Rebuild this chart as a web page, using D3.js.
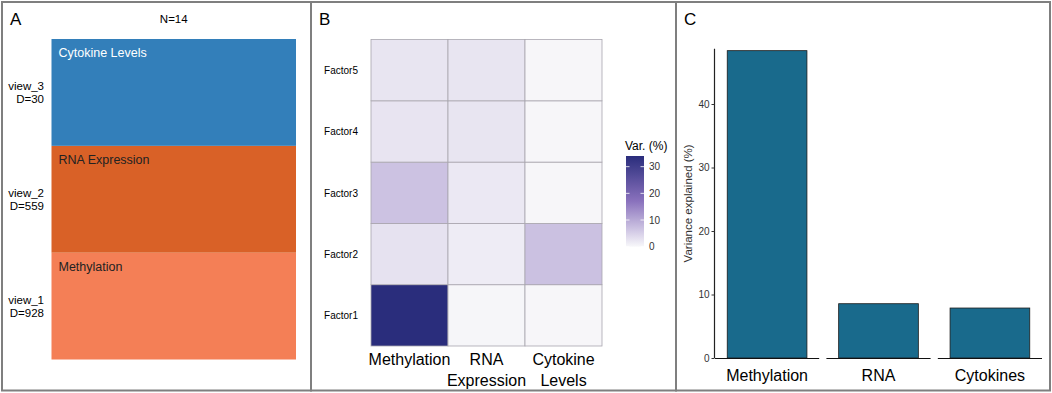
<!DOCTYPE html>
<html>
<head>
<meta charset="utf-8">
<script src="https://cdn.jsdelivr.net/npm/d3@7"></script>
<style>
  body { margin: 0; background: white; }
  text { font-family: "Liberation Sans", Arial, sans-serif; }
</style>
</head>
<body>
<div id="chart"></div>
<script>
// data
let views = ["view_1", "view_2", "view_3"];
let viewNames = ["Methylation", "RNA Expression", "Cytokine Levels"];
let viewDims = [928, 559, 30];
let viewColors = ["#f47f56", "#d96127", "#337fba"];
let nSamples = 14;

let factors = ["Factor1", "Factor2", "Factor3", "Factor4", "Factor5"];
let heatCols = ["Methylation", "RNA Expression", "Cytokine Levels"];
// variance explained per factor (rows) and view (cols)
let varMethylation = [34.0, 2.8, 6.8, 2.5, 2.4];
let varRNA = [0.3, 1.5, 2.0, 2.4, 2.4];
let varCytokine = [0.2, 7.0, 0.2, 0.2, 0.2];
let legendTicks = [0, 10, 20, 30];

let totalLabels = ["Methylation", "RNA", "Cytokines"];
let totalValues = [48.4, 8.55, 7.87];
let yTicks = [0, 10, 20, 30, 40];

let W = 1052, H = 393;
let svg = d3.select("#chart").append("svg")
  .attr("width", W).attr("height", H);

// panel frames
let panels = [[2, 311], [311, 676], [676, 1050]];
panels.forEach(function(p) {
  svg.append("rect")
    .attr("x", p[0]).attr("y", 2)
    .attr("width", p[1] - p[0]).attr("height", 388.5)
    .attr("fill", "none").attr("stroke", "#7f7f7f").attr("stroke-width", 2);
});
["A", "B", "C"].forEach(function(l, i) {
  svg.append("text").attr("x", panels[i][0] + 8).attr("y", 25)
    .attr("font-size", 17).text(l);
});

// ---------- Panel A: data overview ----------
let gA = svg.append("g");
let yA = d3.scaleBand().domain(views.slice().reverse()).range([39, 359.5]);
let xA0 = 51.5, xA1 = 296;

gA.append("text").attr("x", (xA0 + xA1) / 2).attr("y", 23)
  .attr("text-anchor", "middle").attr("font-size", 11.5).text("N=" + nSamples);

gA.selectAll(".blk").data(views).enter().append("rect")
  .attr("x", xA0).attr("width", xA1 - xA0)
  .attr("y", function(d) { return yA(d); })
  .attr("height", yA.bandwidth())
  .attr("fill", function(d, i) { return viewColors[i]; });

gA.selectAll(".nm").data(views).enter().append("text")
  .attr("x", xA0 + 7)
  .attr("y", function(d) { return yA(d) + 18; })
  .attr("font-size", 12.5)
  .attr("fill", function(d, i) { return i == 2 ? "white" : "#222"; })
  .text(function(d, i) { return viewNames[i]; });

views.forEach(function(v, i) {
  let cy = yA(v) + yA.bandwidth() / 2;
  let t = gA.append("text").attr("text-anchor", "end").attr("font-size", 11.5);
  t.append("tspan").attr("x", 44).attr("y", cy - 2).text(v);
  t.append("tspan").attr("x", 44).attr("y", cy + 11).text("D=" + viewDims[i]);
});

// ---------- Panel B: heatmap ----------
let gB = svg.append("g");
let xB = d3.scaleBand().domain(heatCols).range([371, 602]);
let yB = d3.scaleBand().domain(factors.slice().reverse()).range([39.5, 346]);
let color = d3.scaleLinear().domain([0, 17, 34])
  .range(["#f8f8fa", "#8a72bd", "#2a2d7c"]);

let cells = [];
factors.forEach(function(f, i) {
  cells.push({ f: f, v: heatCols[0], val: varMethylation[i] });
  cells.push({ f: f, v: heatCols[1], val: varRNA[i] });
  cells.push({ f: f, v: heatCols[2], val: varCytokine[i] });
});

gB.selectAll(".cell").data(cells).enter().append("rect")
  .attr("x", function(d) { return xB(d.v); })
  .attr("y", function(d) { return yB(d.f); })
  .attr("width", xB.bandwidth()).attr("height", yB.bandwidth())
  .attr("fill", function(d) { return color(d.val); })
  .attr("stroke", "#a9a6ae").attr("stroke-width", 0.8);

gB.selectAll(".fl").data(factors).enter().append("text")
  .attr("x", 358).attr("text-anchor", "end").attr("font-size", 10)
  .attr("y", function(d) { return yB(d) + yB.bandwidth() / 2 + 4; })
  .text(function(d) { return d; });

heatCols.forEach(function(c) {
  let words = c.split(" ");
  let t = gB.append("text").attr("text-anchor", "middle").attr("font-size", 16);
  words.forEach(function(w, j) {
    t.append("tspan").attr("x", xB(c) + xB.bandwidth() / 2).attr("y", 365 + j * 20.5).text(w);
  });
});

// legend
let legY = d3.scaleLinear().domain([0, 34]).range([246.7, 156]);
let defs = svg.append("defs");
let grad = defs.append("linearGradient").attr("id", "lg")
  .attr("x1", 0).attr("y1", 1).attr("x2", 0).attr("y2", 0);
d3.range(0, 1.01, 0.1).forEach(function(t) {
  grad.append("stop").attr("offset", t).attr("stop-color", color(t * 34));
});
gB.append("rect").attr("x", 626).attr("y", legY(34))
  .attr("width", 18).attr("height", legY(0) - legY(34))
  .attr("fill", "url(#lg)");
legendTicks.forEach(function(t) {
  gB.append("line").attr("x1", 626).attr("x2", 629.5)
    .attr("y1", legY(t)).attr("y2", legY(t)).attr("stroke", "white").attr("stroke-width", 0.8);
  gB.append("line").attr("x1", 640.5).attr("x2", 644)
    .attr("y1", legY(t)).attr("y2", legY(t)).attr("stroke", "white").attr("stroke-width", 0.8);
  gB.append("text").attr("x", 649).attr("y", legY(t) + 3.5)
    .attr("font-size", 10).attr("fill", "#333").text(t);
});
gB.append("text").attr("x", 625).attr("y", 150).attr("font-size", 12).text("Var. (%)");

// ---------- Panel C: total variance ----------
let gC = svg.append("g");
let yC = d3.scaleLinear().domain([0, 40]).range([358, 104]);
let facetX = d3.scaleBand().domain(totalLabels).range([715, 1042]).paddingInner(0.065);

gC.append("g").attr("transform", "translate(714.5,0)")
  .call(d3.axisLeft(yC).tickValues(yTicks).tickSize(3).tickPadding(2))
  .call(function(g) {
    g.select(".domain").attr("d", "M0," + yC(48.7) + "V" + yC(0)).attr("stroke", "#222").attr("stroke-width", 1.2);
    g.selectAll(".tick line").attr("stroke", "#333");
    g.selectAll(".tick text").attr("font-size", 10).attr("fill", "#333")
      .attr("font-family", "Liberation Sans, Arial, sans-serif");
  });

gC.append("text")
  .attr("transform", "translate(692," + ((yC(0) + yC(48.7)) / 2) + ") rotate(-90)")
  .attr("text-anchor", "middle").attr("font-size", 11.5).attr("fill", "#333")
  .text("Variance explained (%)");

totalLabels.forEach(function(lab, i) {
  let x0 = facetX(lab), w = facetX.bandwidth();
  let bw = w * 0.765;
  gC.append("rect")
    .attr("x", x0 + (w - bw) / 2).attr("width", bw)
    .attr("y", yC(totalValues[i])).attr("height", yC(0) - yC(totalValues[i]))
    .attr("fill", "#196a8c").attr("stroke", "#1a1a1a").attr("stroke-width", 0.8);
  gC.append("line").attr("x1", x0).attr("x2", x0 + w)
    .attr("y1", yC(0) + 0.5).attr("y2", yC(0) + 0.5)
    .attr("stroke", "#111").attr("stroke-width", 1.2);
  gC.append("text").attr("x", x0 + w / 2).attr("y", 381)
    .attr("text-anchor", "middle").attr("font-size", 16).text(lab);
});
</script>
</body>
</html>
